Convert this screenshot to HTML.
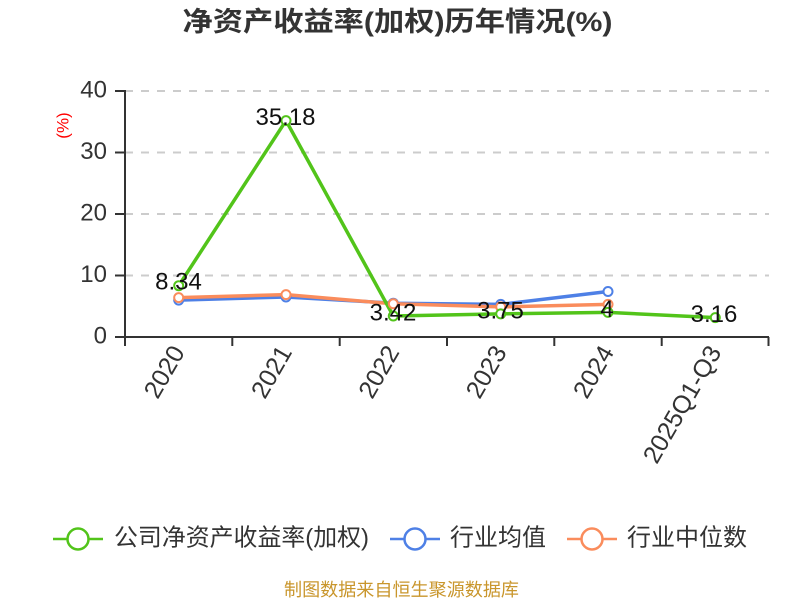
<!DOCTYPE html>
<html>
<head>
<meta charset="utf-8">
<style>
html,body{margin:0;padding:0;background:#fff;}
svg{display:block;}
text{font-family:"Liberation Sans","Noto Sans CJK SC",sans-serif;}
</style>
</head>
<body>
<svg width="800" height="600" viewBox="0 0 800 600" xmlns="http://www.w3.org/2000/svg">
<rect width="800" height="600" fill="#fff"/>
<!-- title -->
<text x="397.5" y="22" text-anchor="middle" dominant-baseline="central" font-size="27" font-weight="bold" fill="#333" textLength="430" lengthAdjust="spacingAndGlyphs">净资产收益率(加权)历年情况(%)</text>

<!-- y axis name -->
<text transform="translate(63,125.5) rotate(-90)" text-anchor="middle" dominant-baseline="central" font-size="17" fill="#ff0000">(%)</text>

<!-- grid lines -->
<g stroke="#cccccc" stroke-width="2" stroke-dasharray="8,8">
<line x1="125" y1="91" x2="769" y2="91"/>
<line x1="125" y1="152.5" x2="769" y2="152.5"/>
<line x1="125" y1="214" x2="769" y2="214"/>
<line x1="125" y1="275.5" x2="769" y2="275.5"/>
</g>

<!-- axes -->
<g stroke="#333" stroke-width="2" fill="none">
<line x1="125" y1="90" x2="125" y2="338"/>
<line x1="115" y1="91" x2="125" y2="91"/>
<line x1="115" y1="152.5" x2="125" y2="152.5"/>
<line x1="115" y1="214" x2="125" y2="214"/>
<line x1="115" y1="275.5" x2="125" y2="275.5"/>
<line x1="115" y1="337" x2="125" y2="337"/>
<line x1="124" y1="337" x2="769" y2="337"/>
<line x1="125" y1="337" x2="125" y2="346"/>
<line x1="232.3" y1="337" x2="232.3" y2="346"/>
<line x1="339.7" y1="337" x2="339.7" y2="346"/>
<line x1="447" y1="337" x2="447" y2="346"/>
<line x1="554.3" y1="337" x2="554.3" y2="346"/>
<line x1="661.7" y1="337" x2="661.7" y2="346"/>
<line x1="768.5" y1="337" x2="768.5" y2="346"/>
</g>

<!-- y tick labels -->
<g font-size="24" fill="#333" text-anchor="end" dominant-baseline="central">
<text x="107" y="90">40</text>
<text x="107" y="151.5">30</text>
<text x="107" y="213">20</text>
<text x="107" y="274.5">10</text>
<text x="107" y="336">0</text>
</g>

<!-- x tick labels -->
<g font-size="25" fill="#333" text-anchor="end" dominant-baseline="central">
<text transform="translate(178.5,348) rotate(-60)">2020</text>
<text transform="translate(285.8,348) rotate(-60)">2021</text>
<text transform="translate(393.1,348) rotate(-60)">2022</text>
<text transform="translate(500.5,348) rotate(-60)">2023</text>
<text transform="translate(607.8,348) rotate(-60)">2024</text>
<text transform="translate(715.1,348) rotate(-60)">2025Q1-Q3</text>
</g>

<!-- series: blue (industry avg) -->
<polyline points="178.7,300.1 286,297 393.3,303.2 500.7,304.4 608,291.5" fill="none" stroke="#4e80e6" stroke-width="3.5" stroke-linejoin="round"/>
<!-- series: orange (industry median) -->
<polyline points="178.7,297.6 286,294.6 393.3,303.8 500.7,306.9 608,304.4" fill="none" stroke="#fa8c5c" stroke-width="3.5" stroke-linejoin="round"/>
<!-- series: green (company) -->
<polyline points="178.7,285.7 286,120.6 393.3,316 500.7,313.9 608,312.4 715.3,317.6" fill="none" stroke="#52c41a" stroke-width="3.5" stroke-linejoin="round"/>

<!-- markers -->
<g fill="#fff" stroke="#4e80e6" stroke-width="2">
<circle cx="178.7" cy="300.1" r="4.5"/>
<circle cx="286" cy="297" r="4.5"/>
<circle cx="393.3" cy="303.2" r="4.5"/>
<circle cx="500.7" cy="304.4" r="4.5"/>
<circle cx="608" cy="291.5" r="4.5"/>
</g>
<g fill="#fff" stroke="#fa8c5c" stroke-width="2">
<circle cx="178.7" cy="297.6" r="4.5"/>
<circle cx="286" cy="294.6" r="4.5"/>
<circle cx="393.3" cy="303.8" r="4.5"/>
<circle cx="500.7" cy="306.9" r="4.5"/>
<circle cx="608" cy="304.4" r="4.5"/>
</g>
<g fill="#fff" stroke="#52c41a" stroke-width="2">
<circle cx="178.7" cy="285.7" r="4.5"/>
<circle cx="286" cy="120.6" r="4.5"/>
<circle cx="393.3" cy="316" r="4.5"/>
<circle cx="500.7" cy="313.9" r="4.5"/>
<circle cx="608" cy="312.4" r="4.5"/>
<circle cx="715.3" cy="317.6" r="4.5"/>
</g>

<!-- data labels -->
<g font-size="24" fill="#111" text-anchor="middle" dominant-baseline="central">
<text x="178.5" y="282">8.34</text>
<text x="285.5" y="117.5">35.18</text>
<text x="393" y="313">3.42</text>
<text x="500.5" y="311">3.75</text>
<text x="607" y="309.5">4</text>
<text x="714" y="314.5">3.16</text>
</g>

<!-- legend -->
<g stroke-width="2.5" fill="#fff">
<line x1="53" y1="539" x2="103" y2="539" stroke="#52c41a"/>
<circle cx="78" cy="539" r="10.5" stroke="#52c41a"/>
<line x1="390" y1="539" x2="440" y2="539" stroke="#4e80e6"/>
<circle cx="415" cy="539" r="10.5" stroke="#4e80e6"/>
<line x1="567" y1="539" x2="617" y2="539" stroke="#fa8c5c"/>
<circle cx="592" cy="539" r="10.5" stroke="#fa8c5c"/>
</g>
<g font-size="24" fill="#333" dominant-baseline="central">
<text x="114" y="538" textLength="255" lengthAdjust="spacingAndGlyphs">公司净资产收益率(加权)</text>
<text x="450" y="538" textLength="96" lengthAdjust="spacingAndGlyphs">行业均值</text>
<text x="627" y="538" textLength="120" lengthAdjust="spacingAndGlyphs">行业中位数</text>
</g>

<!-- footer -->
<text x="401.5" y="590" text-anchor="middle" dominant-baseline="central" font-size="18" fill="#c9962c" textLength="235" lengthAdjust="spacingAndGlyphs">制图数据来自恒生聚源数据库</text>
</svg>
</body>
</html>
